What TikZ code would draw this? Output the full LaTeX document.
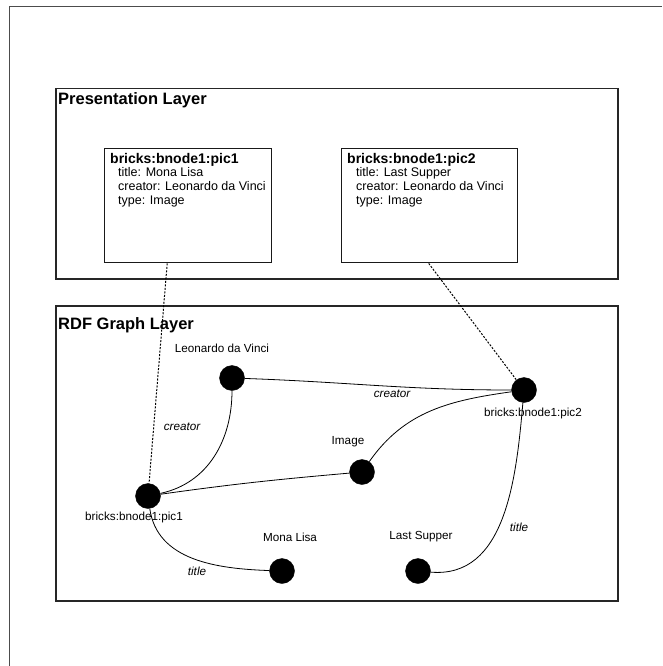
\documentclass[tikz,border=0pt]{standalone}
\usepackage{fontspec}
\setmainfont{Liberation Sans}
\begin{document}
\begin{tikzpicture}[x=1pt,y=1pt,
  frame/.style={draw=black!70, line width=0.9pt},
  layerbox/.style={draw=black!85, line width=1.5pt, inner sep=0pt, anchor=north west},
  layertitle/.style={anchor=west, inner sep=0pt, font=\fontsize{16.5}{19}\selectfont\bfseries},
  cardbox/.style={draw=black!90, line width=1.4pt, inner sep=0pt, anchor=north west},
  cardhead/.style={anchor=base west, inner sep=0pt, font=\fontsize{14}{17}\selectfont\bfseries},
  cardline/.style={anchor=base west, inner sep=0pt, font=\fontsize{12.5}{15}\selectfont},
  dot/.style={circle, fill=black, draw=black, minimum size=25pt, inner sep=0pt},
  vlabel/.style={inner sep=0pt, font=\fontsize{11.7}{14}\selectfont},
  elabel/.style={inner sep=0pt, font=\fontsize{11.7}{14}\selectfont\itshape},
  edge/.style={draw=black, line width=0.8pt},
  link/.style={draw=black, line width=1pt, dash pattern=on 2pt off 1.5pt}
]
\useasboundingbox (0,0) rectangle (662,-666);

% outer frame (left and top edges)
\draw[frame] (9,-666) -- (9,-6) -- (662,-6);

% presentation layer
\node[layerbox, minimum width=562pt, minimum height=190pt] (pres) at (55,-88) {};
\node[layertitle] (prestitle) at (58,-100) {Presentation Layer};

\node[cardbox, minimum width=167pt, minimum height=114pt] (card1) at (104,-148) {};
\node[cardhead] (c1h) at (110,-163) {bricks:bnode1:pic1};
\node[cardline] (c1a) at (118,-176.5) {title: Mona Lisa};
\node[cardline] (c1b) at (118,-190.5) {creator: Leonardo da Vinci};
\node[cardline] (c1c) at (118,-204.5) {type: Image};

\node[cardbox, minimum width=176pt, minimum height=114pt] (card2) at (341,-148) {};
\node[cardhead] (c2h) at (347,-163) {bricks:bnode1:pic2};
\node[cardline] (c2a) at (356,-176.5) {title: Last Supper};
\node[cardline] (c2b) at (356,-190.5) {creator: Leonardo da Vinci};
\node[cardline] (c2c) at (356,-204.5) {type: Image};

% RDF graph layer
\node[layerbox, minimum width=562pt, minimum height=295pt] (rdf) at (55,-305) {};
\node[layertitle] (rdftitle) at (58,-325) {RDF Graph Layer};

% resources
\node[dot] (p1)   at (148,-496) {};
\node[dot] (leo)  at (232,-378) {};
\node[dot] (img)  at (362,-472) {};
\node[dot] (p2)   at (524,-390) {};
\node[dot] (mona) at (282,-571) {};
\node[dot] (last) at (418,-571) {};

\node[vlabel] (p1l)   at (134,-517) {bricks:bnode1:pic1};
\node[vlabel] (leol)  at (222,-348) {Leonardo da Vinci};
\node[vlabel] (imgl)  at (348,-442) {Image};
\node[vlabel] (p2l)   at (533,-413) {bricks:bnode1:pic2};
\node[vlabel] (monal) at (290,-537) {Mona Lisa};
\node[vlabel] (lastl) at (421,-537) {Last Supper};

% properties
\draw[edge] (leo) to[out=-2,in=180] (p2);
\draw[edge] (p1) to[out=12,in=-90] (leo);
\draw[edge] (p1) to[out=8,in=185] (img);
\draw[edge] (img) to[out=55,in=188] (p2);
\draw[edge] (p1) to[out=-82,in=178] (mona);
\draw[edge] (p2) to[out=-95,in=-5] (last);

\node[elabel] (e1) at (392,-394) {creator};
\node[elabel] (e2) at (182,-427) {creator};
\node[elabel] (e3) at (197,-571) {title};
\node[elabel] (e4) at (519,-527) {title};

% links between presentation items and graph nodes
\coordinate (d1) at ([xshift=-21pt]card1.south);
\coordinate (d2) at ([xshift=-1pt]card2.south);
\draw[link] (d1) -- (p1);
\draw[link] (d2) -- (p2);
\end{tikzpicture}
\end{document}
